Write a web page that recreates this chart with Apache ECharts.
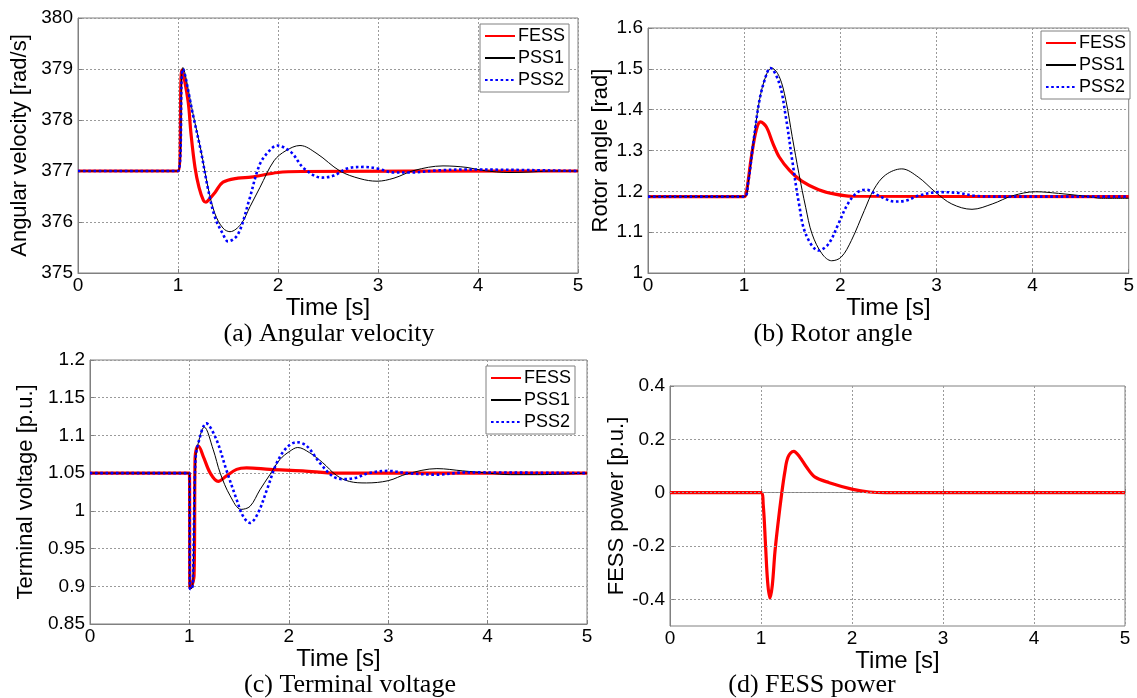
<!DOCTYPE html>
<html><head><meta charset="utf-8">
<script src="https://cdn.jsdelivr.net/npm/echarts@6/dist/echarts.min.js"></script>
<style>html,body{margin:0;padding:0;background:#fff}#c{width:1137px;height:698px}</style>
</head><body><div id="c"></div>
<script>
// ---------- data ----------
const seriesNames = ['FESS', 'PSS1', 'PSS2'];
const xTicks = [0, 1, 2, 3, 4, 5];
const captions = ['(a) Angular velocity', '(b) Rotor angle', '(c) Terminal voltage', '(d) FESS power'];
const yNames = ['Angular velocity [rad/s]', 'Rotor angle [rad]', 'Terminal voltage [p.u.]', 'FESS power [p.u.]'];
const xName = 'Time [s]';
const dTicks = [-0.4, -0.2, 0, 0.2, 0.4];
const dGridLines = [-0.4, -0.2, 0, 0.2];

// (a) angular velocity
const aFessT = [0, 1.0, 1.04, 1.10, 1.13, 1.17, 1.21, 1.255, 1.28, 1.30, 1.37, 1.45, 1.60, 1.73, 2.0, 2.23, 5];
const aFessV = [377, 377, 378.98, 378.38, 377.73, 377.07, 376.68, 376.42, 376.39, 376.42, 376.58, 376.78, 376.86, 376.88, 376.97, 376.99, 377];
const aPss1T = [0, 1.0, 1.05, 1.15, 1.23, 1.30, 1.37, 1.45, 1.52, 1.63, 1.72, 1.82, 1.96, 2.08, 2.22, 2.39, 2.62, 2.82, 2.99, 3.16, 3.36, 3.65, 3.89, 4.05, 4.32, 4.52, 4.72, 5];
const aPss1V = [377, 377, 379.03, 378.12, 377.4, 376.68, 376.16, 375.88, 375.81, 375.96, 376.3, 376.68, 377.2, 377.4, 377.5, 377.34, 377.0, 376.85, 376.8, 376.86, 377.01, 377.1, 377.07, 377.01, 376.97, 376.98, 377.0, 377];
const aPss2T = [0, 1.0, 1.05, 1.15, 1.23, 1.30, 1.37, 1.45, 1.50, 1.60, 1.71, 1.82, 1.93, 1.99, 2.13, 2.26, 2.44, 2.56, 2.69, 2.86, 2.99, 3.16, 3.32, 3.59, 3.89, 5];
const aPss2V = [377, 377, 379.0, 378.1, 377.38, 376.65, 376.09, 375.76, 375.62, 375.76, 376.42, 377.14, 377.43, 377.5, 377.37, 377.05, 376.87, 376.91, 377.05, 377.08, 377.05, 376.97, 376.97, 377.01, 377.03, 377];

// (b) rotor angle
const bFessT = [0, 1.0, 1.024, 1.075, 1.126, 1.17, 1.23, 1.30, 1.365, 1.47, 1.60, 1.775, 1.945, 2.12, 5];
const bFessV = [1.187, 1.187, 1.198, 1.284, 1.35, 1.370, 1.358, 1.317, 1.284, 1.252, 1.225, 1.204, 1.193, 1.188, 1.187];
const bPss1T = [0, 1.0, 1.04, 1.09, 1.16, 1.23, 1.287, 1.365, 1.433, 1.50, 1.57, 1.64, 1.706, 1.81, 1.91, 2.01, 2.116, 2.25, 2.35, 2.47, 2.64, 2.81, 2.99, 3.16, 3.37, 3.58, 3.79, 4.03, 4.27, 4.55, 4.72, 5];
const bPss1V = [1.187, 1.187, 1.219, 1.309, 1.424, 1.485, 1.502, 1.481, 1.424, 1.334, 1.243, 1.161, 1.096, 1.047, 1.030, 1.039, 1.08, 1.153, 1.205, 1.24, 1.255, 1.235, 1.198, 1.169, 1.156, 1.169, 1.189, 1.199, 1.195, 1.188, 1.183, 1.183];
const bPss2T = [0, 1.0, 1.04, 1.09, 1.16, 1.23, 1.27, 1.365, 1.433, 1.50, 1.57, 1.64, 1.775, 1.877, 1.98, 2.08, 2.18, 2.27, 2.40, 2.57, 2.68, 2.81, 3.02, 3.23, 3.40, 3.68, 5];
const bPss2V = [1.187, 1.187, 1.219, 1.309, 1.424, 1.485, 1.502, 1.465, 1.383, 1.276, 1.17, 1.096, 1.055, 1.071, 1.12, 1.17, 1.198, 1.204, 1.189, 1.175, 1.177, 1.189, 1.198, 1.196, 1.189, 1.187, 1.187];

// (c) terminal voltage
const cFessT = [0, 1.0, 1.005, 1.02, 1.047, 1.057, 1.07, 1.09, 1.14, 1.21, 1.29, 1.37, 1.475, 1.575, 1.81, 2.14, 2.48, 5];
const cFessV = [1.05, 1.05, 0.898, 0.899, 0.914, 1.07, 1.082, 1.086, 1.072, 1.05, 1.039, 1.046, 1.055, 1.057, 1.055, 1.053, 1.050, 1.05];
const cPss1T = [0, 1.0, 1.005, 1.02, 1.035, 1.06, 1.08, 1.15, 1.24, 1.31, 1.41, 1.52, 1.61, 1.71, 1.81, 1.91, 2.01, 2.09, 2.21, 2.34, 2.48, 2.61, 2.78, 3.0, 3.19, 3.49, 3.75, 4.01, 4.23, 4.5, 5];
const cPss1V = [1.05, 1.05, 0.898, 0.897, 0.905, 1.065, 1.085, 1.111, 1.081, 1.05, 1.02, 1.002, 1.006, 1.028, 1.048, 1.068, 1.079, 1.084, 1.077, 1.064, 1.047, 1.039, 1.037, 1.040, 1.049, 1.056, 1.053, 1.050, 1.048, 1.048, 1.05];
const cPss2T = [0, 1.0, 1.005, 1.02, 1.035, 1.06, 1.09, 1.17, 1.27, 1.37, 1.475, 1.54, 1.61, 1.69, 1.78, 1.88, 1.98, 2.08, 2.18, 2.31, 2.44, 2.55, 2.68, 2.80, 3.0, 3.19, 3.49, 3.78, 5];
const cPss2V = [1.05, 1.05, 0.897, 0.896, 0.905, 1.065, 1.09, 1.116, 1.095, 1.055, 1.015, 0.993, 0.984, 0.997, 1.028, 1.064, 1.084, 1.091, 1.086, 1.064, 1.046, 1.042, 1.044, 1.05, 1.053, 1.05, 1.048, 1.051, 1.05];

// (d) FESS power
const dFessT = [0, 1.0, 1.025, 1.05, 1.073, 1.098, 1.124, 1.153, 1.189, 1.225, 1.262, 1.298, 1.36, 1.425, 1.50, 1.59, 1.75, 2.01, 2.19, 2.37, 5];
const dFessV = [0, 0, -0.048, -0.198, -0.335, -0.395, -0.348, -0.223, -0.11, -0.01, 0.078, 0.134, 0.155, 0.134, 0.096, 0.059, 0.0375, 0.0125, 0.0025, 0, 0];

// ---------- layout / style ----------
const SANS = 'Liberation Sans, Arial, sans-serif';
const SERIF = 'Liberation Serif, Times New Roman, serif';
const grids = [
  {left: 78, top: 18, width: 500, height: 255},
  {left: 648, top: 28, width: 483, height: 245},
  {left: 90, top: 360, width: 497, height: 264},
  {left: 670, top: 386, width: 455, height: 240}
];
const yRanges = [
  {min: 375, max: 380, interval: 1},
  {min: 1.0, max: 1.6, interval: 0.1},
  {min: 0.85, max: 1.2, interval: 0.05},
  {min: -0.5, max: 0.4, interval: 0.1}
];
const yNameGaps = [47, 36, 53, 42];
const gridColor = '#9a9a9a';
const boxColor = '#808080';

function pairs(t, v) { return t.map((x, i) => [x, v[i]]); }

const styles = {
  FESS: {color: '#ff0000', width: 3.2, type: 'solid'},
  PSS1: {color: '#000000', width: 1, type: 'solid'},
  PSS2: {color: '#0000ff', width: 2.6, type: [2.6, 2.6]}
};

function lineSeries(name, gi, t, v) {
  const s = styles[name];
  return {
    name: name, type: 'line', xAxisIndex: gi, yAxisIndex: gi,
    data: pairs(t, v), symbol: 'none', smooth: 0.35,
    lineStyle: {color: s.color, width: s.width, type: s.type},
    itemStyle: {color: s.color}, z: 3, animation: false
  };
}

const xAxes = grids.map((g, i) => ({
  type: 'value', gridIndex: i, min: 0, max: 5, interval: 1,
  name: xName, nameLocation: 'middle', nameGap: 19,
  nameTextStyle: {fontFamily: SANS, fontSize: 24, color: '#000'},
  axisLine: {lineStyle: {color: boxColor}},
  axisTick: {inside: true, length: 4, lineStyle: {color: boxColor}},
  axisLabel: {fontFamily: SANS, fontSize: 19, color: '#000', margin: 3,
    customValues: xTicks},
  splitLine: {show: true, lineStyle: {color: gridColor, type: [2, 2], width: 1}}
}));

const yAxes = grids.map((g, i) => {
  const ax = {
    type: 'value', gridIndex: i, min: yRanges[i].min, max: yRanges[i].max, interval: yRanges[i].interval,
    name: yNames[i], nameLocation: 'middle', nameGap: yNameGaps[i],
    nameTextStyle: {fontFamily: SANS, fontSize: 22, color: '#000'},
    axisLine: {show: true, lineStyle: {color: boxColor}},
    axisTick: {show: true, inside: true, length: 4, lineStyle: {color: boxColor}},
    axisLabel: {fontFamily: SANS, fontSize: 19, color: '#000', margin: 5},
    splitLine: {show: true, lineStyle: {color: gridColor, type: [2, 2], width: 1}}
  };
  if (i === 3) {
    ax.axisLabel.customValues = dTicks;
    ax.axisTick.customValues = dTicks;
    ax.splitLine = {show: false};
  }
  return ax;
});

const series = [
  lineSeries('FESS', 0, aFessT, aFessV),
  lineSeries('PSS1', 0, aPss1T, aPss1V),
  lineSeries('PSS2', 0, aPss2T, aPss2V),
  lineSeries('FESS', 1, bFessT, bFessV),
  lineSeries('PSS1', 1, bPss1T, bPss1V),
  lineSeries('PSS2', 1, bPss2T, bPss2V),
  lineSeries('FESS', 2, cFessT, cFessV),
  lineSeries('PSS1', 2, cPss1T, cPss1V),
  lineSeries('PSS2', 2, cPss2T, cPss2V),
  {
    type: 'line', xAxisIndex: 3, yAxisIndex: 3, data: [], z: 1, silent: true,
    markLine: {
      silent: true, symbol: 'none', label: {show: false}, animation: false,
      lineStyle: {color: gridColor, type: [2, 2], width: 1},
      data: dGridLines.map(v => ({yAxis: v}))
    }
  },
  lineSeries('FESS', 3, dFessT, dFessV)
];

const legendPos = [
  {left: 480, top: 24},
  {left: 1041, top: 31},
  {left: 486, top: 366}
];
const legends = legendPos.map(p => ({
  data: seriesNames, orient: 'vertical', left: p.left, top: p.top,
  itemWidth: 30, itemHeight: 16, itemGap: 4, padding: [3, 4, 3, 4],
  borderColor: boxColor, borderWidth: 1, backgroundColor: '#fff',
  itemStyle: {opacity: 0, borderWidth: 0},
  textStyle: {fontFamily: SANS, fontSize: 18, color: '#000', padding: [0, 0, 0, -2]},
  selectedMode: false
}));

const capPos = [[329, 334], [833, 334], [350, 685], [812, 685]];
const graphics = captions.map((c, i) => ({
  type: 'text', x: capPos[i][0], y: capPos[i][1], silent: true,
  style: {text: c, fontFamily: SERIF, fontSize: 26, fill: '#000', textAlign: 'center', textVerticalAlign: 'middle'}
}));

const chart = echarts.init(document.getElementById('c'));
chart.setOption({
  animation: false,
  backgroundColor: '#fff',
  grid: grids.map(g => Object.assign({show: true, borderColor: boxColor, borderWidth: 1, backgroundColor: 'transparent'}, g)),
  xAxis: xAxes,
  yAxis: yAxes,
  legend: legends,
  series: series,
  graphic: graphics
});
</script></body></html>
